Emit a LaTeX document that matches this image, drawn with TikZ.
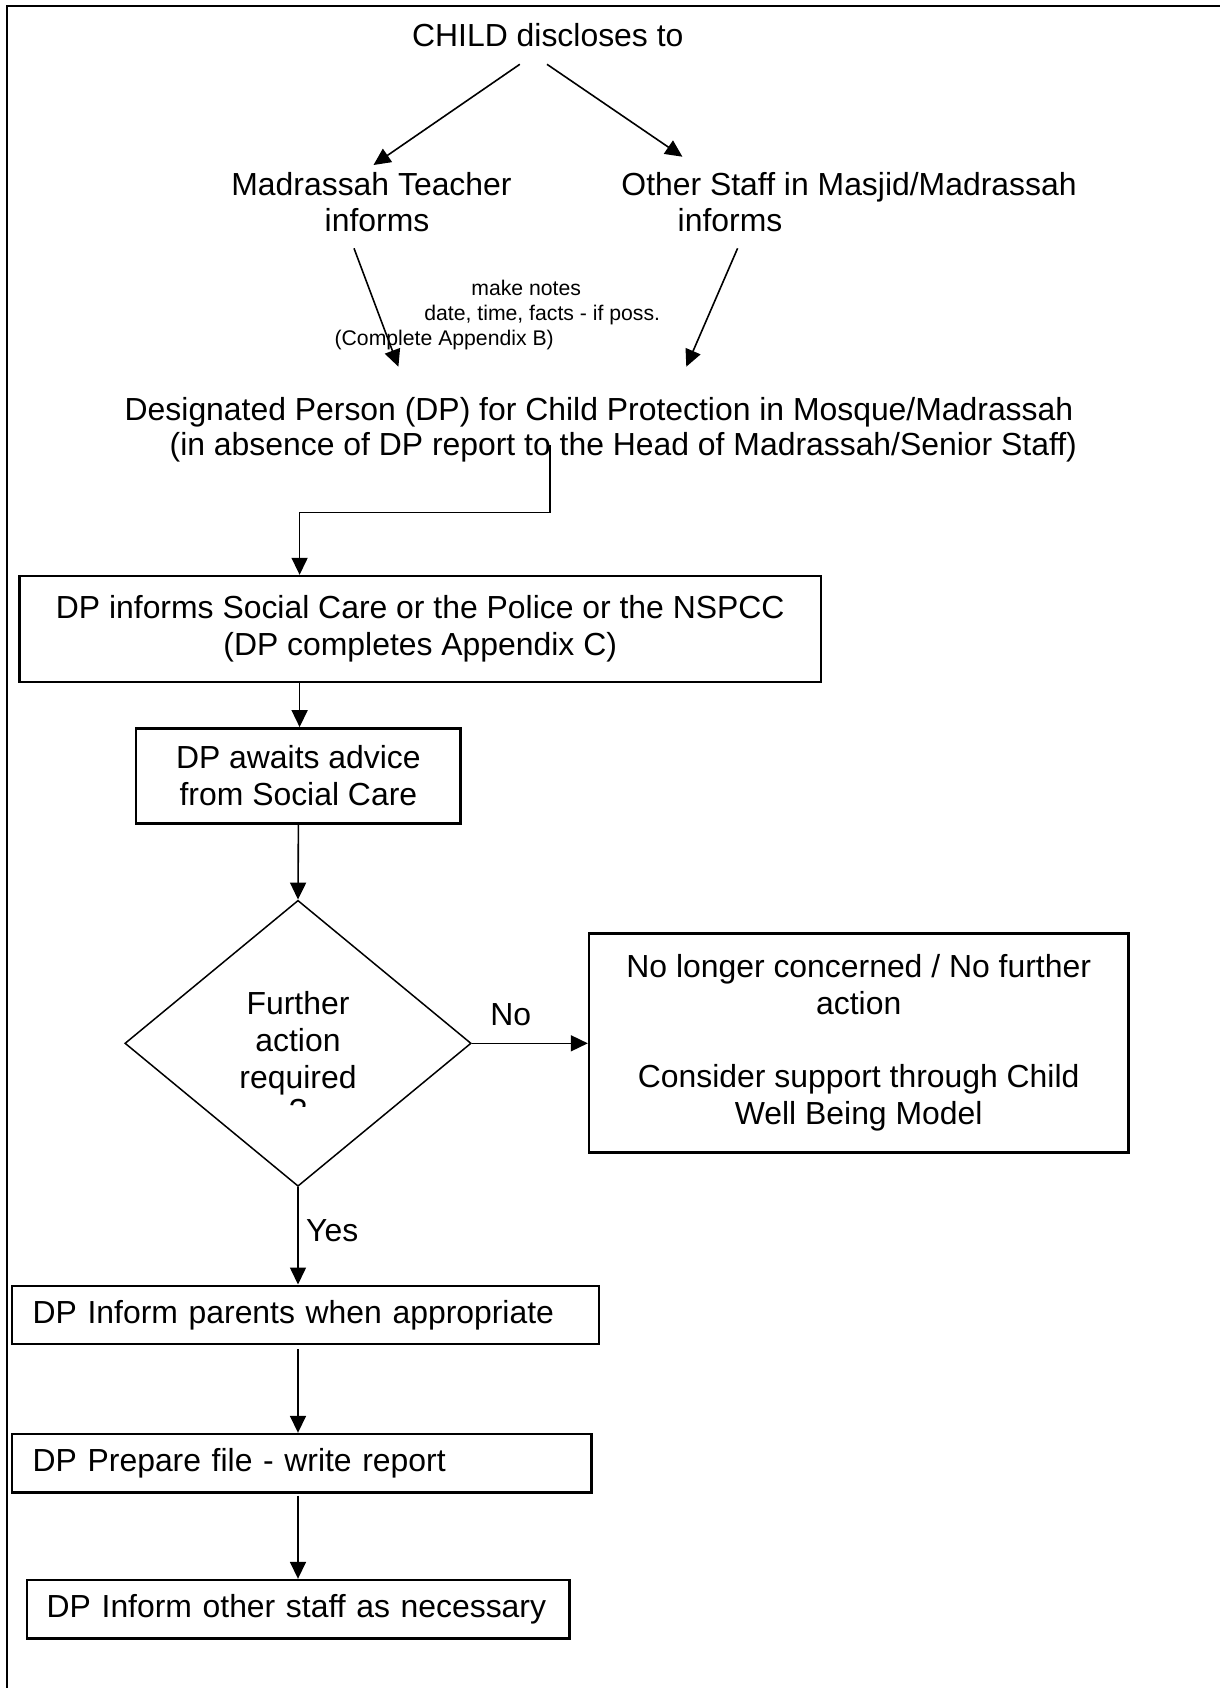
\documentclass[tikz,border=0pt]{standalone}
\usepackage{fontspec}
\setmainfont{Liberation Sans}
\usetikzlibrary{arrows.meta,shapes.geometric}
\begin{document}
\begin{tikzpicture}[x=0.5pt,y=-0.5pt,
  bigtxt/.style={font=\fontsize{15.95pt}{18.35pt}\selectfont, inner sep=0pt},
  smalltxt/.style={font=\fontsize{10.6pt}{12.5pt}\selectfont, inner sep=0pt},
  flowbox/.style={draw, line width=1.2pt, font=\fontsize{15.95pt}{18.35pt}\selectfont, inner sep=0pt, align=center},
  leftbox/.style={draw, line width=1.2pt, font=\fontsize{15.95pt}{18.35pt}\selectfont, align=left, inner ysep=0pt, minimum height=29.15pt},
  decision/.style={draw, diamond, line width=0.75pt, inner sep=0pt, align=center, font=\fontsize{15.95pt}{18.35pt}\selectfont},
  arr/.style={line width=0.8pt, -{Triangle[length=8.5pt,width=8pt]}},
]
\useasboundingbox (0,0) rectangle (1220,1688);
% outer frame (top and left edges visible)
\draw[line width=1.1pt] (7,1688) -- (7,6) -- (1220,6);

% top text
\node[bigtxt, anchor=base] (child) at (547.8,46.7) {CHILD discloses to};
\node[bigtxt, anchor=base] (teacher1) at (371.5,195) {Madrassah Teacher};
\node[bigtxt, anchor=base] (teacher2) at (377,231.7) {informs};
\node[bigtxt, anchor=base] (other1) at (849,195) {Other Staff in Masjid/Madrassah};
\node[bigtxt, anchor=base] (other2) at (730,231.7) {informs};

% notes
\node[smalltxt, anchor=base] (notes1) at (526.2,295) {make notes};
\node[smalltxt, anchor=base] (notes2) at (542.2,320.5) {date, time, facts - if poss.};
\node[smalltxt, anchor=base] (notes3) at (444.2,345) {(Complete Appendix B)};

% designated person
\node[bigtxt, anchor=base] (dp1) at (599,420) {Designated Person (DP) for Child Protection in Mosque/Madrassah};
\node[bigtxt, anchor=base] (dp2) at (623.3,455) {(in absence of DP report to the Head of Madrassah/Senior Staff)};

% boxes
\node[flowbox, minimum width=400.75pt, minimum height=52.85pt] (box1) at (420.25,628.85)
  {DP informs Social Care or the Police or the NSPCC\\(DP completes Appendix C)};
\node[flowbox, minimum width=162.2pt, minimum height=47.5pt] (box2) at (298.4,775.8)
  {DP awaits advice\\from Social Care};
\node[decision, minimum width=173.15pt, minimum height=143pt] (dia) at (298,1043.3)
  {Further\\action\\required};
\begin{scope}
  \clip (220,1090) rectangle (380,1106);
  \node[bigtxt, anchor=base] (qmark) at (298,1121.7) {?};
\end{scope}
\node[flowbox, minimum width=269.7pt, minimum height=109.5pt] (box3) at (858.7,1042.8)
  {No longer concerned / No further\\action\\\mbox{}\\Consider support through Child\\Well Being Model};
\node[leftbox, text width=272.75pt, inner xsep=10.5pt] (box4) at (305.45,1314.85)
  {DP Inform parents when appropriate};
\node[leftbox, text width=268.85pt, inner xsep=10.5pt] (box5) at (301.55,1463.15)
  {DP Prepare file - write report};
\node[leftbox, text width=251.7pt, inner xsep=9.75pt] (box6) at (298.4,1609.15)
  {DP Inform other staff as necessary};

% labels
\node[bigtxt, anchor=base west] (nolbl) at (490,1025) {No};
\node[bigtxt, anchor=base west] (yeslbl) at (305.8,1241.7) {Yes};

% connector end points
\coordinate (a1s) at (519.8,64.3);  \coordinate (a1e) at (373.5,165);
\coordinate (a2s) at (547,64.3);    \coordinate (a2e) at (682.4,156.7);
\coordinate (a3s) at (354,248.3);   \coordinate (a3e) at (398.4,366.7);
\coordinate (a4s) at (737.6,248.3); \coordinate (a4e) at (686.3,366.7);
\coordinate (e1) at (550,445);
\coordinate (k1) at (299.6,512.3);

% connectors
\draw[arr] (a1s) -- (a1e);
\draw[arr] (a2s) -- (a2e);
\draw[arr] (a3s) -- (a3e);
\draw[arr] (a4s) -- (a4e);
\draw[arr] (e1) |- (k1) -- (box1.north -| k1);
\draw[arr] (box1.south -| k1) -- (box2.north -| k1);
\draw[arr] (box2.south) -- (dia.north);
\draw[arr] (dia.east) -- (dia.east -| box3.west);
\draw[arr] (dia.south) -- (dia.south |- box4.north);
\draw[arr] ([yshift=-2pt]box4.south -| dia.south) -- (box5.north -| dia.south);
\draw[arr] ([yshift=-1pt]box5.south -| dia.south) -- (box6.north -| dia.south);
\end{tikzpicture}
\end{document}
